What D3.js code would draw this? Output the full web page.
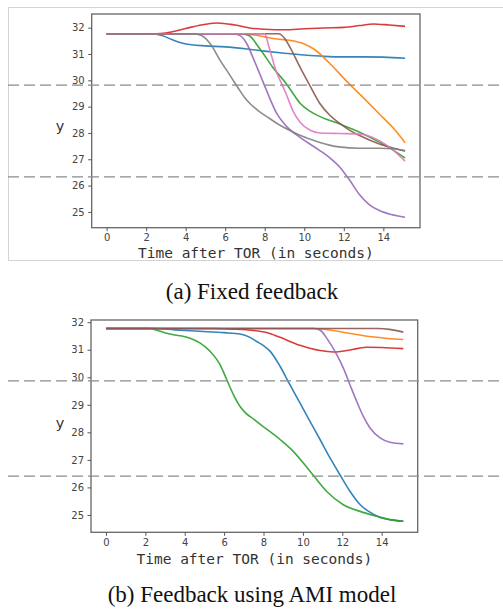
<!DOCTYPE html>
<html>
<head>
<meta charset="utf-8">
<script src="https://cdn.jsdelivr.net/npm/d3@7"></script>
<style>
  body { margin: 0; background: #fff; }
  svg { display: block; }
  .tick text { font-family: "DejaVu Sans", sans-serif; font-size: 10px; fill: #444; }
  .tick line { stroke: #555; }
</style>
</head>
<body>
<svg id="chart" width="503" height="612"></svg>
<script>
// ticks shared by both panels
const timeTicks = [0, 2, 4, 6, 8, 10, 12, 14]
const yTicks = [25, 26, 27, 28, 29, 30, 31, 32]
const xLabel = "Time after TOR (in seconds)"

// (a) Fixed feedback  -- [time, y]
const fixedBlue = [[0,31.77],[2.3,31.77],[2.8,31.7],[3.3,31.55],[3.8,31.42],[4.3,31.35],[5,31.31],[6,31.27],[7,31.2],[8,31.11],[9,31.03],[10,30.96],[11,30.91],[12,30.89],[13,30.89],[14,30.88],[15.1,30.84]]
const fixedOrange = [[0,31.77],[7,31.77],[7.5,31.72],[8,31.65],[8.5,31.58],[9.26,31.52],[10,31.38],[10.5,31.18],[11.28,30.65],[12.1,30.0],[12.96,29.36],[13.8,28.72],[14.6,28.1],[15.1,27.63]]
const fixedGreen = [[0,31.77],[6.8,31.77],[7.2,31.7],[7.75,31.2],[8.4,30.5],[9.1,29.86],[9.45,29.48],[9.8,29.12],[10.3,28.82],[10.8,28.62],[11.8,28.34],[12.8,28.03],[13.8,27.65],[14.5,27.35],[15.1,27.05]]
const fixedRed = [[0,31.77],[2.5,31.77],[3,31.8],[4,31.97],[5,32.13],[5.6,32.18],[6.5,32.1],[7.3,31.98],[8,31.94],[9,31.92],[10,31.96],[11,31.99],[12,32.01],[12.8,32.08],[13.5,32.14],[14.3,32.1],[15.1,32.05]]
const fixedPurple = [[0,31.77],[6.4,31.77],[6.75,31.7],[7.1,31.38],[7.4,30.87],[7.75,30.24],[8.1,29.6],[8.6,28.75],[9.1,28.25],[9.75,27.85],[10.75,27.35],[11.3,27.05],[11.8,26.7],[12.3,26.2],[12.8,25.65],[13.3,25.27],[13.8,25.05],[14.4,24.9],[15.1,24.8]]
const fixedBrown = [[0,31.77],[8.7,31.77],[9.0,31.6],[9.26,31.28],[9.77,30.52],[10.27,29.82],[10.78,29.13],[11.28,28.68],[11.78,28.37],[12.3,28.1],[12.8,27.9],[13.8,27.58],[14.4,27.45],[15.1,27.32]]
const fixedPink = [[0,31.77],[8.0,31.77],[8.2,31.3],[8.6,30.3],[8.9,29.8],[9.1,29.45],[9.45,28.8],[9.8,28.4],[10.3,28.1],[10.8,28.0],[11.8,27.98],[12.8,27.96],[13.4,27.85],[13.8,27.71],[14.5,27.35],[15.1,26.93]]
const fixedGray = [[0,31.77],[4.4,31.77],[4.8,31.7],[5.25,31.38],[5.75,30.75],[6.25,30.18],[6.75,29.6],[7.0,29.33],[7.25,29.12],[7.5,28.95],[7.75,28.8],[8.25,28.55],[8.75,28.3],[9.25,28.1],[9.75,27.92],[10.75,27.65],[11.75,27.47],[12.8,27.42],[13.8,27.42],[14.5,27.4],[15.1,27.32]]
const fixedThresholds = [29.82, 26.33]

// (b) Feedback using AMI model -- [time, y]
const amiBlue = [[0,31.77],[2.5,31.77],[3.5,31.72],[4.77,31.67],[6.0,31.62],[6.8,31.57],[7.31,31.45],[7.65,31.3],[8.0,31.15],[8.33,30.95],[8.84,30.4],[9.34,29.73],[9.85,29.07],[10.36,28.4],[10.87,27.74],[11.38,27.07],[11.88,26.46],[12.39,25.86],[12.9,25.38],[13.4,25.1],[13.9,24.92],[14.5,24.82],[15.1,24.77]]
const amiOrange = [[0,31.77],[10.5,31.77],[11.5,31.7],[12.5,31.58],[13.5,31.47],[14.3,31.41],[15.1,31.37]]
const amiGreen = [[0,31.77],[2.2,31.77],[2.7,31.68],[3.25,31.57],[4.27,31.42],[4.77,31.25],[5.28,30.95],[5.79,30.46],[6.13,29.92],[6.47,29.37],[6.8,28.95],[7.1,28.7],[7.5,28.48],[7.82,28.3],[8.84,27.74],[9.51,27.31],[10.36,26.59],[11.2,25.86],[12.05,25.37],[12.9,25.13],[13.75,24.95],[14.4,24.83],[15.1,24.77]]
const amiRed = [[0,31.77],[5.5,31.77],[6.5,31.75],[7.5,31.7],[8.2,31.62],[8.84,31.45],[9.85,31.16],[10.87,30.97],[11.55,30.92],[12.22,30.97],[12.8,31.05],[13.24,31.09],[14.0,31.08],[15.1,31.04]]
const amiPurple = [[0,31.77],[10.6,31.77],[10.9,31.7],[11.2,31.43],[11.72,30.82],[12.05,30.34],[12.39,29.73],[12.73,29.13],[13.07,28.58],[13.41,28.16],[13.92,27.8],[14.42,27.64],[15.1,27.58]]
const amiBrown = [[0,31.77],[13.8,31.77],[14.4,31.74],[15.1,31.64]]
const amiThresholds = [29.87, 26.41]

const palette = ["#1f77b4", "#ff7f0e", "#2ca02c", "#d62728", "#9467bd", "#8c564b", "#e377c2", "#7f7f7f"]

var svg = d3.select("#chart")
svg.append("rect").attr("width", 503).attr("height", 612).attr("fill", "#fff")

// light frame around the first figure
svg.append("rect")
    .attr("x", 8.5).attr("y", 7.5)
    .attr("width", 500).attr("height", 253)
    .attr("fill", "none")
    .attr("stroke", "#d4d4d4")
    .attr("stroke-width", 1)

function drawPanel(p, series, thresholds) {
    var x = d3.scaleLinear().domain(p.xDomain).range([p.left, p.right])
    var y = d3.scaleLinear().domain(p.yDomain).range([p.bottom, p.top])

    var g = svg.append("g")

    var line = d3.line()
        .x(function(d) { return x(d[0]) })
        .y(function(d) { return y(d[1]) })
        .curve(d3.curveMonotoneX)

    g.selectAll("path.series")
        .data(series)
        .enter()
        .append("path")
        .attr("class", "series")
        .attr("d", line)
        .attr("fill", "none")
        .attr("stroke", function(d, i) { return palette[i] })
        .attr("stroke-width", 1.6)
        .attr("stroke-opacity", 0.9)

    // frame
    g.append("rect")
        .attr("x", p.left).attr("y", p.top)
        .attr("width", p.right - p.left).attr("height", p.bottom - p.top)
        .attr("fill", "none")
        .attr("stroke", "#666")
        .attr("stroke-width", 1.3)

    g.append("g")
        .attr("transform", "translate(" + p.left + ",0)")
        .call(d3.axisLeft(y).tickValues(yTicks).tickSize(3.5).tickPadding(3.5))
        .call(function(a) { a.select(".domain").remove() })

    g.append("g")
        .attr("transform", "translate(0," + p.bottom + ")")
        .call(d3.axisBottom(x).tickValues(timeTicks).tickSize(3.5).tickPadding(3))
        .call(function(a) { a.select(".domain").remove() })

    // threshold lines run across the whole width
    g.selectAll("line.thr")
        .data(thresholds)
        .enter()
        .append("line")
        .attr("class", "thr")
        .attr("x1", p.dashStart).attr("x2", 503)
        .attr("y1", function(d) { return y(d) })
        .attr("y2", function(d) { return y(d) })
        .attr("stroke", "#8a8a8a")
        .attr("stroke-width", 1.3)
        .attr("stroke-dasharray", "11,5")

    g.append("text")
        .attr("x", (p.left + p.right) / 2)
        .attr("y", p.xLabelY)
        .attr("text-anchor", "middle")
        .style("font-family", "'DejaVu Sans Mono', monospace")
        .style("font-size", "14.5px")
        .style("fill", "#333")
        .text(xLabel)

    g.append("text")
        .attr("x", 60)
        .attr("y", p.yLabelY)
        .attr("text-anchor", "middle")
        .style("font-family", "'DejaVu Sans', sans-serif")
        .style("font-size", "14.5px")
        .style("fill", "#333")
        .text("y")

    g.append("text")
        .attr("x", 252)
        .attr("y", p.captionY)
        .attr("text-anchor", "middle")
        .style("font-family", "'Liberation Serif', 'Times New Roman', serif")
        .style("font-size", "23px")
        .style("fill", "#111")
        .text(p.caption)
}

drawPanel({
    left: 91.7, right: 420, top: 14, bottom: 227.7,
    xDomain: [-0.755, 15.855], yDomain: [24.40, 32.52],
    dashStart: 8, xLabelY: 258, yLabelY: 131, captionY: 299,
    caption: "(a) Fixed feedback"
}, [fixedBlue, fixedOrange, fixedGreen, fixedRed, fixedPurple, fixedBrown, fixedPink, fixedGray], fixedThresholds)

drawPanel({
    left: 91, right: 417.7, top: 320, bottom: 532.3,
    xDomain: [-0.76, 15.83], yDomain: [24.37, 32.08],
    dashStart: 8, xLabelY: 563.5, yLabelY: 428, captionY: 601.5,
    caption: "(b) Feedback using AMI model"
}, [amiBlue, amiOrange, amiGreen, amiRed, amiPurple, amiBrown], amiThresholds)
</script>
</body>
</html>
